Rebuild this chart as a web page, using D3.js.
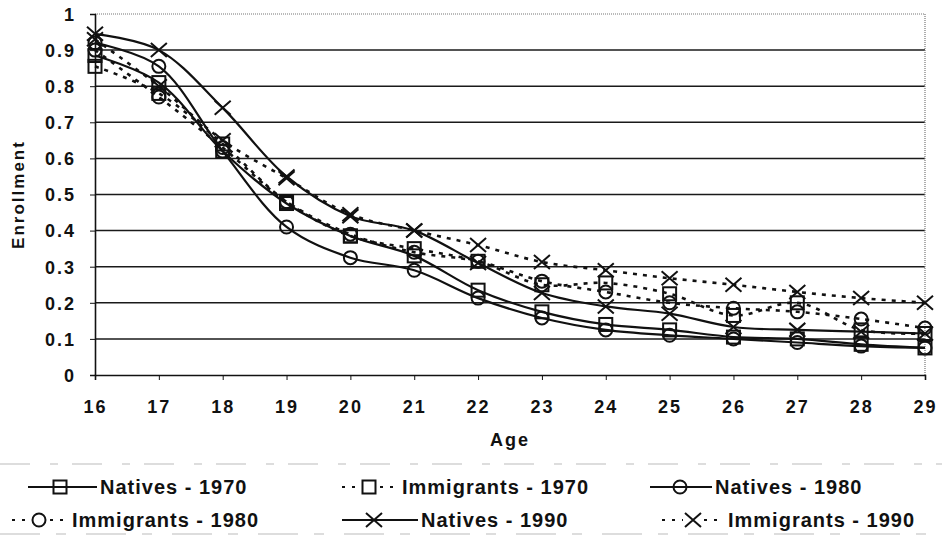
<!DOCTYPE html>
<html><head><meta charset="utf-8">
<script src="https://cdn.jsdelivr.net/npm/d3@7"></script>
<style>body{margin:0;background:#fff}svg{display:block}text{font-family:"Liberation Sans",Arial,sans-serif;font-weight:bold;fill:#111}</style>
</head><body>
<svg id="c" width="942" height="537"></svg>
<script>
const ages = [16,17,18,19,20,21,22,23,24,25,26,27,28,29];
const yTicks = [0,0.1,0.2,0.3,0.4,0.5,0.6,0.7,0.8,0.9,1];
const yTickLabels = ["0","0.1","0.2","0.3","0.4","0.5","0.6","0.7","0.8","0.9","1"];
const natives1970    = [0.885,0.81,0.62,0.475,0.385,0.33,0.235,0.175,0.14,0.125,0.105,0.10,0.085,0.075];
const immigrants1970 = [0.855,0.78,0.64,0.48,0.385,0.35,0.315,0.25,0.255,0.225,0.165,0.20,0.125,0.115];
const natives1980    = [0.92,0.855,0.62,0.41,0.325,0.29,0.213,0.158,0.125,0.11,0.10,0.09,0.08,0.075];
const immigrants1980 = [0.90,0.77,0.63,0.48,0.39,0.34,0.315,0.26,0.23,0.20,0.185,0.175,0.155,0.13];
const natives1990    = [0.945,0.90,0.74,0.55,0.44,0.40,0.31,0.227,0.19,0.17,0.133,0.125,0.12,0.115];
const immigrants1990 = [0.93,0.80,0.65,0.545,0.445,0.40,0.36,0.313,0.29,0.268,0.25,0.23,0.213,0.20];
const seriesNames = ["Natives - 1970","Immigrants - 1970","Natives - 1980","Immigrants - 1980","Natives - 1990","Immigrants - 1990"];
const seriesValues = [natives1970,immigrants1970,natives1980,immigrants1980,natives1990,immigrants1990];
const seriesMarkers = ["square","square","circle","circle","x","x"];
const seriesDashed = [false,true,false,true,false,true];

const svg = d3.select("#c");
const L=95,R=925,T=14,B=375;
const x = d3.scaleLinear().domain([16,29]).range([L,R]);
const y = d3.scaleLinear().domain([0,1]).range([B,T]);

// grid
svg.append("g").selectAll("line").data(yTicks.filter(v=>v>0&&v<1)).join("line")
  .attr("x1",L).attr("x2",R).attr("y1",d=>y(d)).attr("y2",d=>y(d))
  .attr("stroke","#1a1a1a").attr("stroke-width",1.5);
// top/right border dotted
svg.append("line").attr("x1",L).attr("x2",R).attr("y1",T).attr("y2",T).attr("stroke","#777").attr("stroke-width",1.2).attr("stroke-dasharray","1,1");
svg.append("line").attr("x1",R).attr("x2",R).attr("y1",T).attr("y2",B).attr("stroke","#777").attr("stroke-width",1.2).attr("stroke-dasharray","1,1");

// axes
const yAxis = d3.axisLeft(y).tickValues(yTicks).tickFormat((d,i)=>yTickLabels[i]).tickSize(5).tickPadding(14);
const gy = svg.append("g").attr("transform",`translate(${L},0)`).call(yAxis);
gy.select(".domain").attr("stroke","#111").attr("stroke-width",1.6);
gy.selectAll(".tick line").attr("stroke","#111");
gy.selectAll(".tick text").style("font-size","18px").style("letter-spacing","2px").attr("dy","0.35em");

const xAxis = d3.axisBottom(x).tickValues(ages).tickFormat(d3.format("d")).tickSize(5).tickPadding(20);
const gx = svg.append("g").attr("transform",`translate(0,${B})`).call(xAxis);
gx.select(".domain").attr("stroke","#111").attr("stroke-width",1.6);
gx.selectAll(".tick line").attr("stroke","#111");
gx.selectAll(".tick text").style("font-size","18px").style("letter-spacing","2px");

svg.append("text").attr("transform",`translate(24,${(T+B)/2}) rotate(-90)`).attr("text-anchor","middle")
  .style("font-size","17px").style("letter-spacing","2px").text("Enrollment");
svg.append("text").attr("x",(L+R)/2).attr("y",446).attr("text-anchor","middle")
  .style("font-size","18px").style("letter-spacing","2px").text("Age");

function marker(g,type,cx,cy){
  if(type==="square"){
    g.append("rect").attr("x",cx-6.5).attr("y",cy-6.5).attr("width",13).attr("height",13)
      .attr("fill","none").attr("stroke","#111").attr("stroke-width",2);
  } else if(type==="circle"){
    g.append("ellipse").attr("cx",cx).attr("cy",cy).attr("rx",6.5).attr("ry",6.5)
      .attr("fill","none").attr("stroke","#111").attr("stroke-width",2);
  } else {
    g.append("path").attr("d",`M${cx-8},${cy-7}L${cx+8},${cy+7}M${cx-8},${cy+7}L${cx+8},${cy-7}`)
      .attr("stroke","#111").attr("stroke-width",2);
  }
}

const line = d3.line().x((d,i)=>x(ages[i])).y(d=>y(d)).curve(d3.curveCatmullRom.alpha(0.5));
seriesValues.forEach((vals,si)=>{
  const g = svg.append("g");
  g.append("path").attr("d",line(vals)).attr("fill","none").attr("stroke","#111")
    .attr("stroke-width",seriesDashed[si]?2.6:2.2)
    .attr("stroke-dasharray",seriesDashed[si]?"4,6":null);
  vals.forEach((v,i)=>marker(g,seriesMarkers[i]===undefined?seriesMarkers[si]:seriesMarkers[si],x(ages[i]),y(v)));
});

// legend
const legendPos = [
  {lx1:28,lx2:97,mx:60,tx:100,ty:487},
  {lx1:342,lx2:396,mx:369,tx:402,ty:487},
  {lx1:650,lx2:712,mx:680,tx:715,ty:487},
  {lx1:12,lx2:66,mx:39,tx:72,ty:520},
  {lx1:342,lx2:418,mx:374,tx:421,ty:520},
  {lx1:662,lx2:724,mx:693,tx:728,ty:520}
];
const lg = svg.append("g");
lg.append("line").attr("x1",0).attr("x2",942).attr("y1",464).attr("y2",464).attr("stroke","#bbb").attr("stroke-width",1).attr("stroke-dasharray","30,20,8,14");
lg.append("line").attr("x1",0).attr("x2",942).attr("y1",534).attr("y2",534).attr("stroke","#bbb").attr("stroke-width",1).attr("stroke-dasharray","40,16,10,20");
seriesNames.forEach((n,i)=>{
  const p = legendPos[i];
  if(seriesDashed[i]){
    lg.append("line").attr("x1",p.lx1).attr("x2",p.mx-10).attr("y1",p.ty).attr("y2",p.ty)
      .attr("stroke","#111").attr("stroke-width",2.2).attr("stroke-dasharray","3,7");
    lg.append("line").attr("x1",p.mx+11).attr("x2",p.lx2).attr("y1",p.ty).attr("y2",p.ty)
      .attr("stroke","#111").attr("stroke-width",2.2).attr("stroke-dasharray","3,7");
  } else {
    lg.append("line").attr("x1",p.lx1).attr("x2",p.lx2).attr("y1",p.ty).attr("y2",p.ty)
      .attr("stroke","#111").attr("stroke-width",2.2);
  }
  marker(lg,seriesMarkers[i],p.mx,p.ty);
  lg.append("text").attr("x",p.tx).attr("y",p.ty).attr("dy","0.35em")
    .style("font-size","20px").style("letter-spacing","1px").text(n);
});
</script>
</body></html>
